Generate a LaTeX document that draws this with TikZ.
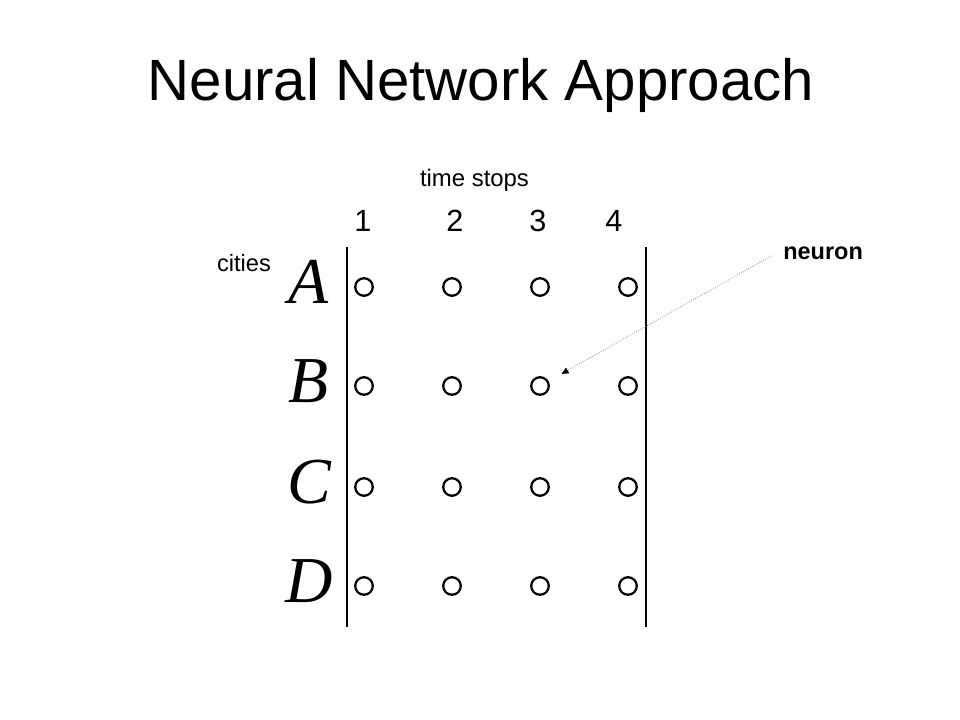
\documentclass[tikz,border=0pt]{standalone}
\usepackage{fontspec}
\setmainfont{Liberation Sans}
\newfontfamily\letterfont{Liberation Serif}
\usetikzlibrary{arrows.meta}
\begin{document}
\begin{tikzpicture}[x=0.025cm,y=-0.025cm,
    neuron/.style={draw,circle,line width=1.6pt,inner sep=0pt,minimum size=12.5pt},
    city/.style={anchor=base,inner sep=0pt,font=\letterfont\itshape\fontsize{46.6}{50}\selectfont},
    stop/.style={anchor=base,inner sep=0pt,font=\fontsize{21.8}{24}\selectfont}]
        \useasboundingbox[fill=white] (0,0) rectangle (960,720);
        %% Title
        \node[anchor=base,inner sep=0pt,font=\fontsize{41.4}{46}\selectfont] (title) at (481,101) {Neural Network Approach};
        %% Axis labels
        \node[anchor=base,inner sep=0pt,font=\fontsize{17}{20}\selectfont] (time) at (474.5,187) {time stops};
        \node[anchor=base,inner sep=0pt,font=\fontsize{16.8}{20}\selectfont] (cities) at (244,272) {cities};
        \foreach \t/\x in {1/363,2/455,3/538,4/614}
            \node[stop] (t\t) at (\x,232) {\t};
        %% Cities and neurons
        \foreach \c/\r/\y in {A/1/287,B/2/386,C/3/487,D/4/586} {
            \node[city] (c\r) at (309,\y+16.5) {\c};
            \foreach \i/\x in {1/364,2/452,3/540,4/628}
                \node[neuron] (n-\r-\i) at (\x,\y) {};
        }
        %% Bars
        \draw[line width=2.1pt] (347,247) -- (347,627);
        \draw[line width=2.1pt] (646,247) -- (646,627);
        %% Label
        \node[anchor=base west,inner sep=0pt,font=\bfseries\fontsize{16.7}{20}\selectfont] (label) at (783,260) {neuron};
        \coordinate (start) at (771,256);
        \draw[gray,densely dotted,line width=0.5pt,-{Triangle[black,length=5pt,width=4.5pt]},shorten >=10.5pt] (start) -- (n-2-3);
    \end{tikzpicture}
\end{document}
